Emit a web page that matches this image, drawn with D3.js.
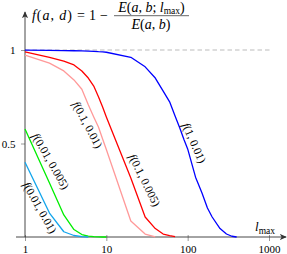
<!DOCTYPE html>
<html>
<head>
<meta charset="utf-8">
<script src="https://cdn.jsdelivr.net/npm/d3@7"></script>
<style>
  body { margin: 0; background: #fff; }
  text { font-family: "Liberation Serif", "DejaVu Serif", serif; fill: #000; }
</style>
</head>
<body>
<div id="chart"></div>
<script>
// chart size
let svgWidth = 287;
let svgHeight = 254;

// l_max sample points (log x axis)
const lmax = [1, 2, 3, 4, 5, 6, 7, 8, 9, 10, 20, 30, 40, 50, 60, 70, 80, 90, 100, 125, 150, 175, 200, 250, 300, 350, 400];

// values, null = curve already ended
const f_1_001 = [0.999, 0.998, 0.997, 0.996, 0.995, 0.994, 0.993, 0.991, 0.99, 0.988, 0.961, 0.91, 0.85, 0.78, 0.723, 0.647, 0.583, 0.521, 0.471, 0.32, 0.235, 0.155, 0.107, 0.045, 0.016, 0.004, 0];
const f_01_0005 = [0.99, 0.96, 0.94, 0.92, 0.888, 0.85, 0.807, 0.75, 0.695, 0.642, 0.315, 0.107, 0.045, 0.016, 0.007, 0.002, null, null, null, null, null, null, null, null, null, null, null];
const f_01_001 = [0.973, 0.93, 0.888, 0.84, 0.79, 0.707, 0.642, 0.588, 0.524, 0.468, 0.086, 0.016, 0.001, null, null, null, null, null, null, null, null, null, null, null, null, null, null];
const f_001_0005 = [0.578, 0.289, 0.118, 0.04, 0.013, 0.005, 0.002, 0.001, 0, 0, null, null, null, null, null, null, null, null, null, null, null, null, null, null, null, null, null];
const f_001_001 = [0.40, 0.128, 0.028, 0.008, 0.002, 0, null, null, null, null, null, null, null, null, null, null, null, null, null, null, null, null, null, null, null, null, null];

const seriesValues = [f_1_001, f_01_0005, f_01_001, f_001_0005, f_001_001];
const seriesArgs = ["(1, 0.01)", "(0.1, 0.005)", "(0.1, 0.01)", "(0.01, 0.005)", "(0.01, 0.01)"];
const seriesColors = ["#0000ff", "#ff0000", "#ff9999", "#00ee00", "#12a5ec"];

// label placement (centre as l_max / f value) and slope angle
const labelAt = [[112, 0.497], [27.5, 0.297], [5.47, 0.594], [1.93, 0.398], [1.42, 0.15]];
const labelAngle = [66, 63.5, 62, 60, 60.5];

// ticks
const xTicks = [1, 10, 100, 1000];
const yTicks = [0.5, 1];

let svg = d3.select("#chart")
  .append("svg")
  .attr("width", svgWidth)
  .attr("height", svgHeight);

// scales
let xScale = d3.scaleLog()
  .domain([1, 1000])
  .range([25, 269]);

let yScale = d3.scaleLinear()
  .domain([0, 1])
  .range([237, 50]);

// arrow head
svg.append("defs").append("marker")
  .attr("id", "arrow")
  .attr("viewBox", "0 -4 8 8")
  .attr("refX", 7)
  .attr("refY", 0)
  .attr("markerWidth", 7)
  .attr("markerHeight", 7)
  .attr("markerUnits", "userSpaceOnUse")
  .attr("orient", "auto")
  .append("path")
  .attr("d", "M0,-3.5 L8,0 L0,3.5 L2,0 Z")
  .attr("fill", "#333");

// dashed line at f = 1
svg.append("line")
  .attr("x1", xScale(1))
  .attr("x2", 270)
  .attr("y1", yScale(1))
  .attr("y2", yScale(1))
  .attr("stroke", "#aaa")
  .attr("stroke-width", 0.8)
  .attr("stroke-dasharray", "4.5,3");

// ticks and tick labels
let bottomAxis = d3.axisBottom(xScale)
  .tickValues(xTicks)
  .tickFormat(d3.format("d"))
  .tickSizeInner(4)
  .tickSizeOuter(0)
  .tickPadding(4);

let gx = svg.append("g")
  .attr("transform", `translate(0, ${yScale(0)})`)
  .call(bottomAxis);
gx.select(".domain").remove();
gx.selectAll(".tick line").attr("stroke", "#999").attr("y1", -2);
gx.selectAll(".tick text")
  .style("font-family", "'Liberation Serif', serif")
  .style("font-size", "11px")
  .attr("fill", "#000");

let leftAxis = d3.axisLeft(yScale)
  .tickValues(yTicks)
  .tickFormat(d => d === 1 ? "1" : "0.5")
  .tickSizeInner(4)
  .tickSizeOuter(0)
  .tickPadding(5.5);

let gy = svg.append("g")
  .attr("transform", `translate(${xScale(1)}, 0)`)
  .call(leftAxis);
gy.select(".domain").remove();
gy.selectAll(".tick line").attr("stroke", "#999");
gy.selectAll(".tick text")
  .style("font-family", "'Liberation Serif', serif")
  .style("font-size", "11px")
  .attr("fill", "#000");

// axis lines with arrows
svg.append("line")
  .attr("x1", 16).attr("x2", 286)
  .attr("y1", yScale(0)).attr("y2", yScale(0))
  .attr("stroke", "#333").attr("stroke-width", 0.9)
  .attr("marker-end", "url(#arrow)");

svg.append("line")
  .attr("x1", xScale(1)).attr("x2", xScale(1))
  .attr("y1", yScale(0)).attr("y2", 12)
  .attr("stroke", "#333").attr("stroke-width", 0.9)
  .attr("marker-end", "url(#arrow)");

// curves
let line = d3.line()
  .defined(d => d[1] !== null)
  .x(d => xScale(d[0]))
  .y(d => yScale(d[1]));

seriesValues.forEach(function (vals, i) {
  svg.append("path")
    .datum(lmax.map((l, j) => [l, vals[j]]))
    .attr("d", line)
    .attr("fill", "none")
    .attr("stroke", seriesColors[i])
    .attr("stroke-width", 1.3)
    .attr("stroke-linejoin", "round");
});

// curve labels, rotated along the curves, sitting just right of them
seriesArgs.forEach(function (arg, i) {
  let cx = xScale(labelAt[i][0]);
  let cy = yScale(labelAt[i][1]);
  let t = svg.append("text")
    .attr("transform", `translate(${cx}, ${cy}) rotate(${labelAngle[i]})`)
    .attr("text-anchor", "middle")
    .attr("dy", "0.1em")
    .style("font-size", "11.5px");
  t.append("tspan").style("font-style", "italic").text("f");
  t.append("tspan").text(arg);
});

// axis label l_max
let xl = svg.append("text")
  .attr("x", 255)
  .attr("y", 231)
  .style("font-size", "13px");
xl.append("tspan").style("font-style", "italic").text("l");
xl.append("tspan").attr("dy", 3).style("font-size", "9.5px").text("max");

// formula at the top
let f1 = svg.append("text").attr("x", 32).attr("y", 19.5)
  .attr("textLength", 40).attr("lengthAdjust", "spacing")
  .style("font-size", "14px");
f1.append("tspan").style("font-style", "italic").text("f");
f1.append("tspan").text("(");
f1.append("tspan").style("font-style", "italic").text("a");
f1.append("tspan").text(", ");
f1.append("tspan").style("font-style", "italic").text("d");
f1.append("tspan").text(")");

svg.append("text").attr("x", 81).attr("y", 19.5).attr("text-anchor", "middle").style("font-size", "14px").text("=");
svg.append("text").attr("x", 92.5).attr("y", 19.5).attr("text-anchor", "middle").style("font-size", "14px").text("1");
svg.append("text").attr("x", 104).attr("y", 19.5).attr("text-anchor", "middle").style("font-size", "14px").text("\u2212");

let num = svg.append("text").attr("x", 151.5).attr("y", 11.5).attr("text-anchor", "middle").style("font-size", "14px");
num.append("tspan").style("font-style", "italic").text("E");
num.append("tspan").text("(");
num.append("tspan").style("font-style", "italic").text("a");
num.append("tspan").text(", ");
num.append("tspan").style("font-style", "italic").text("b");
num.append("tspan").text("; ");
num.append("tspan").style("font-style", "italic").text("l");
num.append("tspan").attr("dy", 2.5).style("font-size", "9.5px").text("max");
num.append("tspan").attr("dy", -2.5).text(")");

svg.append("line")
  .attr("x1", 114).attr("x2", 189)
  .attr("y1", 15.7).attr("y2", 15.7)
  .attr("stroke", "#000").attr("stroke-width", 0.6);

let den = svg.append("text").attr("x", 151).attr("y", 29).attr("text-anchor", "middle").style("font-size", "14px");
den.append("tspan").style("font-style", "italic").text("E");
den.append("tspan").text("(");
den.append("tspan").style("font-style", "italic").text("a");
den.append("tspan").text(", ");
den.append("tspan").style("font-style", "italic").text("b");
den.append("tspan").text(")");
</script>
</body>
</html>
